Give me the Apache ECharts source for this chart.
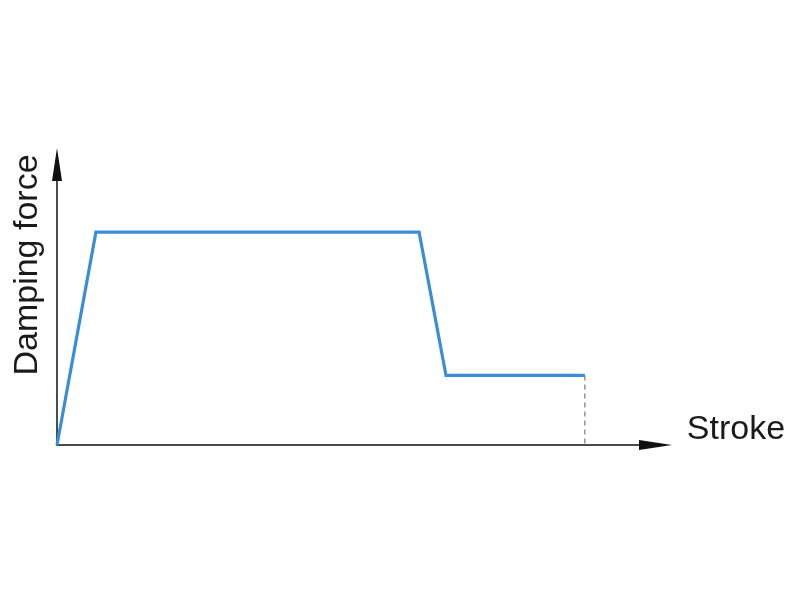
<!DOCTYPE html>
<html>
<head>
<meta charset="utf-8">
<script src="https://cdn.jsdelivr.net/npm/echarts@6/dist/echarts.min.js"></script>
<style>html,body{margin:0;padding:0;background:#fff;}#c{width:800px;height:600px;}</style>
</head>
<body>
<div id="c"></div>
<script>
// Stroke positions (arbitrary units, axis runs 0..100)
const strokeX = [0, 6.5, 60.5, 65.0, 88.2];
// Damping force (arbitrary units, axis runs 0..100)
const forceY = [0, 75.9, 75.9, 24.8, 24.8];
// Dashed drop line at end of stroke
const dropX = [88.2, 88.2];
const dropY = [24.8, 0];
const xAxisName = 'Stroke';
const yAxisName = 'Damping force';

const chart = echarts.init(document.getElementById('c'));
const axisCommon = {
  type: 'value', min: 0, max: 100,
  axisLine: { show: true, symbol: ['none', 'triangle'], symbolSize: [10, 33],
    lineStyle: { color: '#111', width: 1.5 } },
  axisTick: { show: false }, axisLabel: { show: false }, splitLine: { show: false }
};
chart.setOption({
  animation: false,
  grid: { left: 57, right: 144.5, top: 164.5, bottom: 155 },
  xAxis: axisCommon,
  yAxis: axisCommon,
  graphic: [
    { type: 'text', x: 736, y: 430, style: { text: xAxisName, fontSize: 34, fontFamily: 'Liberation Sans', fill: '#1a1a1a', align: 'center', verticalAlign: 'middle' } },
    { type: 'text', x: 28, y: 265, rotation: Math.PI / 2, style: { text: yAxisName, fontSize: 34, fontFamily: 'Liberation Sans', fill: '#1a1a1a', align: 'center', verticalAlign: 'middle' } }
  ],
  series: [
    { type: 'line', data: dropX.map((x, i) => [x, dropY[i]]), symbol: 'none',
      lineStyle: { color: '#777', width: 1.2, type: [5, 4] }, z: 1 },
    { type: 'line', data: strokeX.map((x, i) => [x, forceY[i]]), symbol: 'none',
      lineStyle: { color: '#3a8dd6', width: 3.2, join: 'miter' }, z: 3 }
  ]
});
</script>
</body>
</html>
